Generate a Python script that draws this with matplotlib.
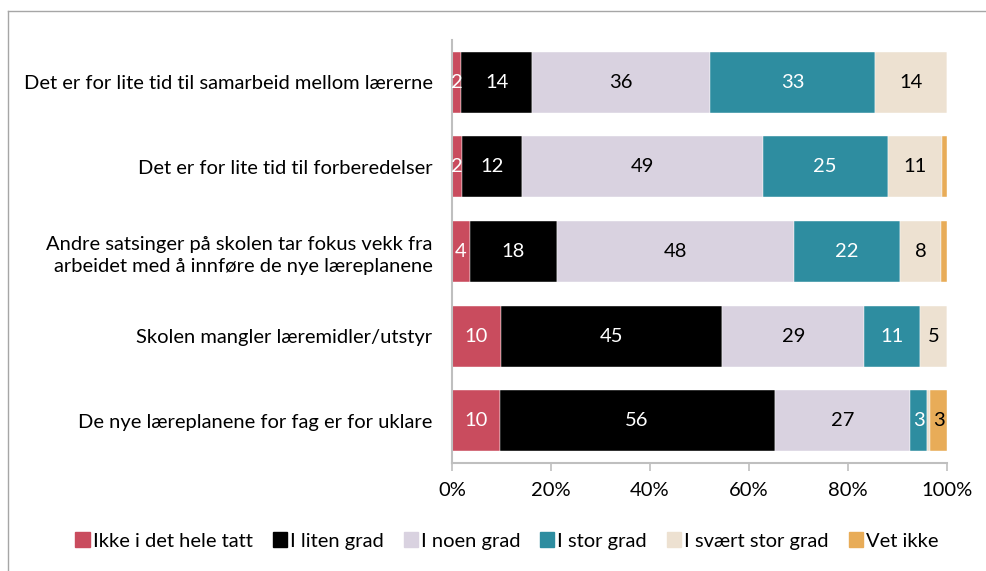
import matplotlib
matplotlib.use("Agg")
import matplotlib.pyplot as plt
from matplotlib.patches import Patch
from matplotlib.lines import Line2D
from matplotlib.ticker import PercentFormatter

categories = [
    "Det er for lite tid til samarbeid mellom lærerne",
    "Det er for lite tid til forberedelser",
    "Andre satsinger på skolen tar fokus vekk fra\narbeidet med å innføre de nye læreplanene",
    "Skolen mangler læremidler/utstyr",
    "De nye læreplanene for fag er for uklare",
]
series_names = ["Ikke i det hele tatt", "I liten grad", "I noen grad",
                "I stor grad", "I svært stor grad", "Vet ikke"]
ikke_i_det_hele_tatt = [1.8, 2.0, 3.6, 9.9, 9.6]
i_liten_grad = [14.4, 12.1, 17.6, 44.7, 55.6]
i_noen_grad = [35.9, 48.7, 47.8, 28.7, 27.4]
i_stor_grad = [33.4, 25.2, 21.6, 11.3, 3.3]
i_svaert_stor_grad = [14.4, 11.0, 8.2, 5.4, 0.7]
vet_ikke = [0.0, 1.0, 1.2, 0.0, 3.4]
series = [ikke_i_det_hele_tatt, i_liten_grad, i_noen_grad,
          i_stor_grad, i_svaert_stor_grad, vet_ikke]
colors = ["#C94C5E", "#000000", "#D9D2E0", "#2E8DA0", "#EDE1D1", "#E8AC58"]
text_colors = ["white", "white", "black", "white", "black", "black"]
xticks = [0, 20, 40, 60, 80, 100]

plt.rcParams["font.family"] = ["Lato", "DejaVu Sans"]
FS = 14.5

fig = plt.figure(figsize=(9.87, 5.71), dpi=100)
ax = fig.add_axes([452 / 987, 1 - 463 / 571, 495 / 987, 423 / 571])

ypos = list(range(len(categories)))
left = [0.0] * len(categories)
for vals, col, tcol in zip(series, colors, text_colors):
    bars = ax.barh(ypos, vals, left=left, height=0.72, color=col,
                   edgecolor="white", linewidth=0.3)
    for b, v, l in zip(bars, vals, left):
        if v >= 1.5:
            ax.text(l + v / 2, b.get_y() + b.get_height() / 2, f"{v:.0f}",
                    ha="center", va="center", color=tcol, fontsize=FS)
    left = [a + b for a, b in zip(left, vals)]

ax.set_xlim(0, 100)
ax.set_ylim(len(categories) - 0.5, -0.5)
ax.set_yticks(ypos)
ax.set_yticklabels(categories, fontsize=FS)
for lbl in ax.get_yticklabels():
    lbl.set_linespacing(1.35)
ax.set_xticks(xticks)
ax.xaxis.set_major_formatter(PercentFormatter(decimals=0))
ax.tick_params(axis="x", labelsize=FS, length=6, width=1.2, color="#BFBFBF",
               direction="out", pad=8)
ax.tick_params(axis="y", length=0, pad=14)
for side in ["top", "right"]:
    ax.spines[side].set_visible(False)
for side in ["left", "bottom"]:
    ax.spines[side].set_color("#BFBFBF")
    ax.spines[side].set_linewidth(1.5)

handles = [Patch(facecolor=c, edgecolor=c, label=n) for c, n in zip(colors, series_names)]
fig.legend(handles=handles, loc="center", bbox_to_anchor=(507 / 987, 1 - 541 / 571),
           ncol=6, frameon=False, fontsize=FS, handlelength=0.7, handleheight=0.7,
           handletextpad=0.15, columnspacing=1.0, borderpad=0.2)

# outer frame lines
fig.add_artist(Line2D([8 / 987, 1.0], [1 - 11 / 571, 1 - 11 / 571],
                      transform=fig.transFigure, color="#A6A6A6", linewidth=1))
fig.add_artist(Line2D([8 / 987, 8 / 987], [0.0, 1 - 11 / 571],
                      transform=fig.transFigure, color="#A6A6A6", linewidth=1))

fig.savefig("out.png", dpi=100)
